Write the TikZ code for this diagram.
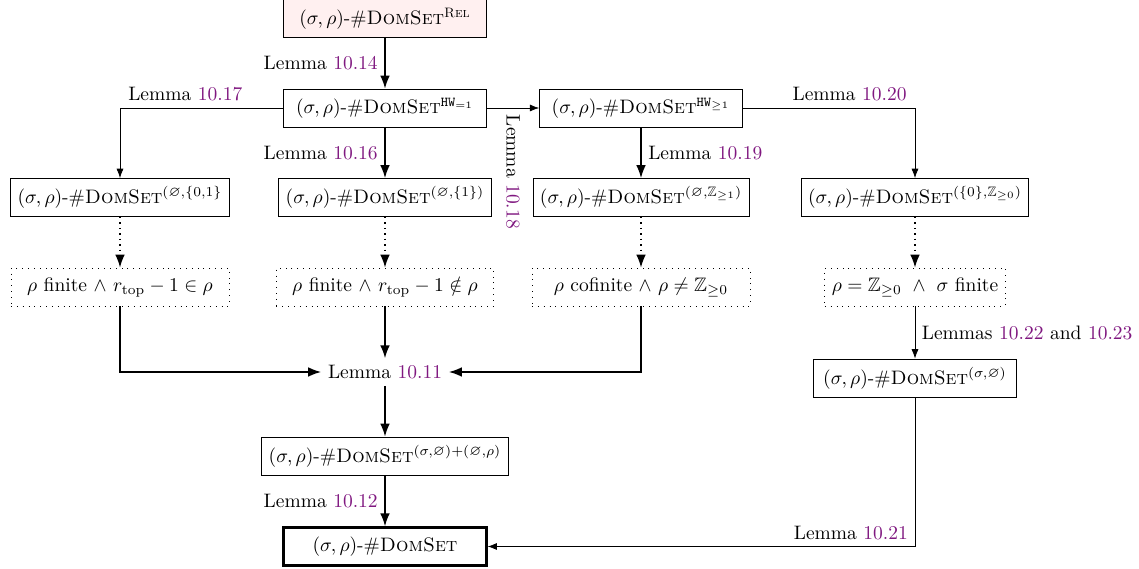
\documentclass[tikz,border=0pt]{standalone}
\usepackage{amsmath,amssymb}
\usetikzlibrary{arrows.meta}
\definecolor{lemcol}{RGB}{128,24,128}
\newcommand{\lem}[1]{Lemma \textcolor{lemcol}{#1}}
\newcommand{\dsname}{$(\sigma,\rho)$-\#\textsc{DomSet}}
\begin{document}
\begin{tikzpicture}[x=0.5128pt,y=-0.5128pt,
  box/.style={draw, minimum width=104pt, minimum height=19.5pt, inner sep=3.6pt},
  cond/.style={draw, dash pattern=on 0.4pt off 2.6pt, minimum height=19.5pt, inner sep=3.6pt},
  tarr/.style={thick, -{Latex}},
  narr/.style={-{Latex}}]
\useasboundingbox (0,0) rectangle (1139,569);

% problem variants
\node[box, fill=red!6] (rel) at (385,18.5) {\dsname$^{\text{\textsc{Rel}}}$};
\node[box] (hw1) at (385,108) {\dsname$^{\mathtt{HW}_{=1}}$};
\node[box] (hwg) at (641,108) {\dsname$^{\mathtt{HW}_{\geq 1}}$};
\node[box] (a) at (120,197.5) {\dsname$^{(\varnothing,\{0,1\}}$};
\node[box] (b) at (385,197.5) {\dsname$^{(\varnothing,\{1\})}$};
\node[box] (c) at (641,197.5) {\dsname$^{(\varnothing,\mathbb{Z}_{\geq 1})}$};
\node[box] (d) at (915,197.5) {\dsname$^{(\{0\},\mathbb{Z}_{\geq 0})}$};

% case conditions
\node[cond, minimum width=111.8pt] (ca) at (120,287) {$\rho$ finite $\wedge$ $r_{\text{top}}-1\in\rho$};
\node[cond, minimum width=111.3pt] (cb) at (385,287) {$\rho$ finite $\wedge$ $r_{\text{top}}-1\notin\rho$};
\node[cond, minimum width=111.8pt] (cc) at (641,287) {$\rho$ cofinite $\wedge\ \rho\neq\mathbb{Z}_{\geq 0}$};
\node[cond, minimum width=91.3pt] (cd) at (915,287) {$\rho=\mathbb{Z}_{\geq 0}\ \wedge\ \sigma$ finite};

\node (l11) at (385,372) {\lem{10.11}};
\node[box] (sum) at (385,456) {\dsname$^{(\sigma,\varnothing)+(\varnothing,\rho)}$};
\node[box] (se) at (915,378) {\dsname$^{(\sigma,\varnothing)}$};
\node[box, very thick] (goal) at (385,546.5) {\dsname};

% reductions
\draw[tarr] (rel) -- node[left]{\lem{10.14}} (hw1);
\draw[narr] (hw1) -- node[anchor=west, rotate=-90]{\lem{10.18}} (hwg);
\draw[narr] (hw1.west) -| node[above, pos=0.3]{\lem{10.17}} (a.north);
\draw[tarr] (hw1) -- node[left]{\lem{10.16}} (b);
\draw[tarr] (hwg) -- node[right]{\lem{10.19}} (c);
\draw[narr] (hwg.east) -| node[above, pos=0.31]{\lem{10.20}} (d.north);
\foreach \p/\q in {a/ca,b/cb,c/cc,d/cd}
  \draw[tarr, dotted] (\p) -- (\q);
\draw[tarr] (ca.south) |- (l11.west);
\draw[tarr] (cb) -- (l11);
\draw[tarr] (cc.south) |- (l11.east);
\draw[tarr] (l11) -- (sum);
\draw[tarr] (sum) -- node[left]{\lem{10.12}} (goal);
\draw[narr] (cd) -- node[right]{Lemmas \textcolor{lemcol}{10.22} and \textcolor{lemcol}{10.23}} (se);
\draw[narr] (se.south) |- node[above, pos=0.575]{\lem{10.21}} (goal.east);
\end{tikzpicture}
\end{document}
